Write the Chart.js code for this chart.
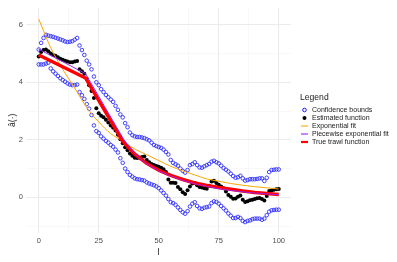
<!DOCTYPE html>
<html>
<head>
<meta charset="utf-8">
<script src="https://cdn.jsdelivr.net/npm/chart.js@4"></script>
<style>
  html, body { margin: 0; padding: 0; background: #fff; }
  #wrap { position: relative; width: 397px; height: 262px; }
  #legend { position: absolute; left: 300px; top: 92px; font-family: "Liberation Sans", Arial, sans-serif; color: #1a1a1a; }
  #legend .title { font-size: 8.6px; margin-bottom: 4px; }
  #legend .item { position: relative; height: 8px; font-size: 7px; line-height: 8px; padding-left: 12px; white-space: nowrap; }
  #legend .sym { position: absolute; left: 1px; top: 0; width: 7px; height: 8px; }
</style>
</head>
<body>
<div id="wrap">
  <canvas id="trawlChart" width="397" height="262"></canvas>
  <div id="legend"></div>
</div>
<script>
const lags = [];
for (let i = 0; i <= 100; i++) lags.push(i);

const estimated = [4.90, 5.05, 5.12, 5.14, 5.08, 5.00, 4.95, 4.92, 4.87, 4.82,
  4.78, 4.75, 4.72, 4.70, 4.70, 4.72, 4.74, 4.45, 4.38, 4.30,
  4.12, 3.90, 3.70, 3.45, 3.10, 2.92, 2.84, 2.78, 2.70, 2.60,
  2.50, 2.42, 2.32, 2.18, 2.02, 1.88, 1.74, 1.64, 1.52, 1.45,
  1.38, 1.37, 1.38, 1.40, 1.42, 1.30, 1.22, 1.16, 1.12, 1.09,
  1.06, 1.03, 0.98, 0.88, 0.62, 0.51, 0.51, 0.50, 0.36, 0.28,
  0.18, 0.12, 0.25, 0.38, 0.48, 0.50, 0.42, 0.36, 0.34, 0.32,
  0.30, 0.40, 0.55, 0.58, 0.50, 0.44, 0.38, 0.32, 0.20, 0.08,
  0.02, -0.05, -0.04, 0.02, 0.06, -0.08, -0.16, -0.14, -0.10, -0.08,
  -0.06, -0.03, -0.02, -0.06, -0.11, 0.05, 0.22, 0.24, 0.26, 0.28, 0.29];

const upperBound = [5.14, 5.37, 5.54, 5.65, 5.62, 5.60, 5.58, 5.55, 5.52, 5.49,
  5.46, 5.42, 5.40, 5.41, 5.43, 5.48, 5.54, 5.28, 5.12, 4.95,
  4.75, 4.62, 4.45, 4.20, 4.00, 3.90, 3.76, 3.66, 3.56, 3.48,
  3.40, 3.32, 3.18, 3.04, 2.88, 2.78, 2.58, 2.44, 2.25, 2.16,
  2.12, 2.10, 2.10, 2.08, 2.06, 2.02, 1.98, 1.90, 1.82, 1.78,
  1.75, 1.72, 1.66, 1.58, 1.49, 1.30, 1.20, 1.15, 1.10, 1.00,
  0.92, 0.86, 0.95, 1.12, 1.16, 1.22, 1.12, 1.04, 1.03, 1.08,
  1.12, 1.16, 1.24, 1.27, 1.22, 1.18, 1.10, 1.02, 0.96, 0.90,
  0.82, 0.74, 0.68, 0.70, 0.75, 0.66, 0.58, 0.60, 0.63, 0.63,
  0.63, 0.64, 0.66, 0.66, 0.57, 0.68, 0.88, 0.95, 0.96, 0.97, 0.97];

const lowerBound = [4.62, 4.62, 4.62, 4.65, 4.68, 4.48, 4.38, 4.30, 4.22, 4.14,
  4.08, 4.02, 3.96, 3.92, 3.90, 3.90, 3.92, 3.66, 3.55, 3.42,
  3.24, 3.08, 2.86, 2.50, 2.30, 2.24, 2.12, 2.04, 1.96, 1.90,
  1.82, 1.76, 1.66, 1.56, 1.36, 1.20, 1.00, 0.88, 0.78, 0.72,
  0.66, 0.63, 0.62, 0.60, 0.58, 0.52, 0.48, 0.45, 0.42, 0.38,
  0.32, 0.24, 0.15, 0.06, -0.06, -0.17, -0.20, -0.26, -0.35, -0.44,
  -0.52, -0.57, -0.48, -0.32, -0.22, -0.17, -0.30, -0.38, -0.40, -0.36,
  -0.34, -0.32, -0.20, -0.14, -0.16, -0.22, -0.30, -0.38, -0.46, -0.56,
  -0.64, -0.72, -0.72, -0.68, -0.72, -0.82, -0.86, -0.82, -0.80, -0.76,
  -0.74, -0.74, -0.74, -0.78, -0.74, -0.62, -0.50, -0.45, -0.44, -0.43, -0.43];

// fitted curves, read at a few lags
const expFitLags = [0, 5, 10, 15, 20, 25, 30, 35, 40, 45, 50, 55, 60, 65, 70, 75, 80, 85, 90, 95, 100];
const expFit = [6.20, 5.20, 4.45, 3.80, 3.12, 2.62, 2.22, 1.95, 1.68, 1.48, 1.28, 1.08, 0.92, 0.78, 0.64, 0.56, 0.48, 0.42, 0.37, 0.33, 0.29];

const pieceLags = [0, 19.5, 35.5, 40, 45, 50, 55, 60, 65, 70, 75, 80, 85, 90, 95, 100];
const pieceFit = [5.15, 4.30, 2.00, 1.50, 1.16, 0.92, 0.74, 0.59, 0.47, 0.38, 0.30, 0.24, 0.19, 0.15, 0.12, 0.09];

const trueLags = [0, 19.5, 35, 40, 45, 50, 55, 60, 65, 70, 75, 80, 85, 90, 95, 100];
const trueTrawl = [4.95, 4.15, 1.95, 1.50, 1.18, 0.94, 0.76, 0.62, 0.50, 0.41, 0.34, 0.28, 0.22, 0.17, 0.13, 0.10];

const xTicks = [0, 25, 50, 75, 100];
const yTicks = [0, 2, 4, 6];

function pts(xs, ys) {
  return xs.map((x, i) => ({ x: x, y: ys[i] }));
}

const legendItems = [
  { label: "Confidence bounds", kind: "open", color: "#0000ff" },
  { label: "Estimated function", kind: "dot", color: "#000000" },
  { label: "Exponential fit", kind: "line", color: "#ffa500" },
  { label: "Piecewise exponential fit", kind: "line", color: "#a020f0" },
  { label: "True trawl function", kind: "thick", color: "#ff0000" }
];

function buildLegend() {
  const box = document.getElementById("legend");
  box.innerHTML = '<div class="title">Legend</div>';
  legendItems.forEach(item => {
    const row = document.createElement("div");
    row.className = "item";
    let sym;
    if (item.kind === "open") {
      sym = `<svg class="sym"><circle cx="3.5" cy="4" r="1.8" fill="none" stroke="${item.color}" stroke-width="0.9"/></svg>`;
    } else if (item.kind === "dot") {
      sym = `<svg class="sym"><circle cx="3.5" cy="4" r="2" fill="${item.color}"/></svg>`;
    } else {
      const w = item.kind === "thick" ? 2.2 : 1.1;
      sym = `<svg class="sym"><line x1="0" y1="4" x2="7" y2="4" stroke="${item.color}" stroke-width="${w}"/></svg>`;
    }
    row.innerHTML = sym + item.label;
    box.appendChild(row);
  });
}

const gridOpts = {
  drawTicks: false,
  color: ctx => (ctx.tick && ctx.tick.major) ? "#ebebeb" : "#f3f3f3",
  lineWidth: ctx => (ctx.tick && ctx.tick.major) ? 1.1 : 0.6
};

const tickFont = { family: "'Liberation Sans', Arial, sans-serif", size: 7.5 };

const ctx = document.getElementById("trawlChart").getContext("2d");
const trawlChart = new Chart(ctx, {
  type: "scatter",
  data: {
    datasets: [
      {
        label: "Piecewise exponential fit",
        data: pts(pieceLags, pieceFit),
        showLine: true, borderColor: "#a020f0", borderWidth: 1, pointRadius: 0, order: 1
      },
      {
        label: "True trawl function",
        data: pts(trueLags, trueTrawl),
        showLine: true, borderColor: "#ff0000", borderWidth: 3.5, pointRadius: 0, order: 2
      },
      {
        label: "Exponential fit",
        data: pts(expFitLags, expFit),
        showLine: true, borderColor: "#ffa500", borderWidth: 1, pointRadius: 0,
        cubicInterpolationMode: "monotone", order: 3
      },
      {
        label: "Estimated function",
        data: pts(lags, estimated),
        backgroundColor: "#000000", borderColor: "#000000", borderWidth: 0, pointRadius: 2, order: 4
      },
      {
        label: "Confidence bounds",
        data: pts(lags, upperBound),
        backgroundColor: "rgba(0,0,0,0)", borderColor: "#2f2fff", borderWidth: 0.9, pointRadius: 1.8, order: 5
      },
      {
        label: "Confidence bounds (lower)",
        data: pts(lags, lowerBound),
        backgroundColor: "rgba(0,0,0,0)", borderColor: "#2f2fff", borderWidth: 0.9, pointRadius: 1.8, order: 6
      }
    ]
  },
  options: {
    responsive: false,
    animation: false,
    layout: { padding: { top: 4, right: 106, left: 0, bottom: 0 } },
    plugins: { legend: { display: false }, tooltip: { enabled: false } },
    scales: {
      x: {
        type: "linear",
        min: -5.3, max: 105.1,
        border: { display: false },
        grid: gridOpts,
        afterBuildTicks: scale => {
          const t = [];
          for (let v = 0; v <= 100; v += 12.5) t.push({ value: v, major: xTicks.includes(v) });
          scale.ticks = t;
        },
        afterFit: scale => { scale.height = 29; },
        ticks: {
          padding: 3, color: "#4d4d4d", font: tickFont, maxRotation: 0, autoSkip: false,
          callback: v => xTicks.includes(v) ? String(v) : ""
        },
        title: {
          display: true, text: "l", color: "#1a1a1a",
          font: { family: "'Liberation Sans', Arial, sans-serif", size: 8.6 },
          padding: { top: 0, bottom: 4 }
        }
      },
      y: {
        type: "linear",
        min: -1.24, max: 6.6,
        border: { display: false },
        grid: gridOpts,
        afterBuildTicks: scale => {
          const t = [];
          for (let v = -1; v <= 6; v += 1) t.push({ value: v, major: yTicks.includes(v) });
          scale.ticks = t;
        },
        afterFit: scale => { scale.width = 26; },
        ticks: {
          padding: 3, color: "#4d4d4d", font: tickFont, autoSkip: false,
          callback: v => yTicks.includes(v) ? String(v) : ""
        },
        title: {
          display: true, text: "â(·)", color: "#1a1a1a",
          font: { family: "'Liberation Sans', Arial, sans-serif", size: 8.6 },
          padding: { top: 7, bottom: 0 }
        }
      }
    }
  }
});

buildLegend();
</script>
</body>
</html>
